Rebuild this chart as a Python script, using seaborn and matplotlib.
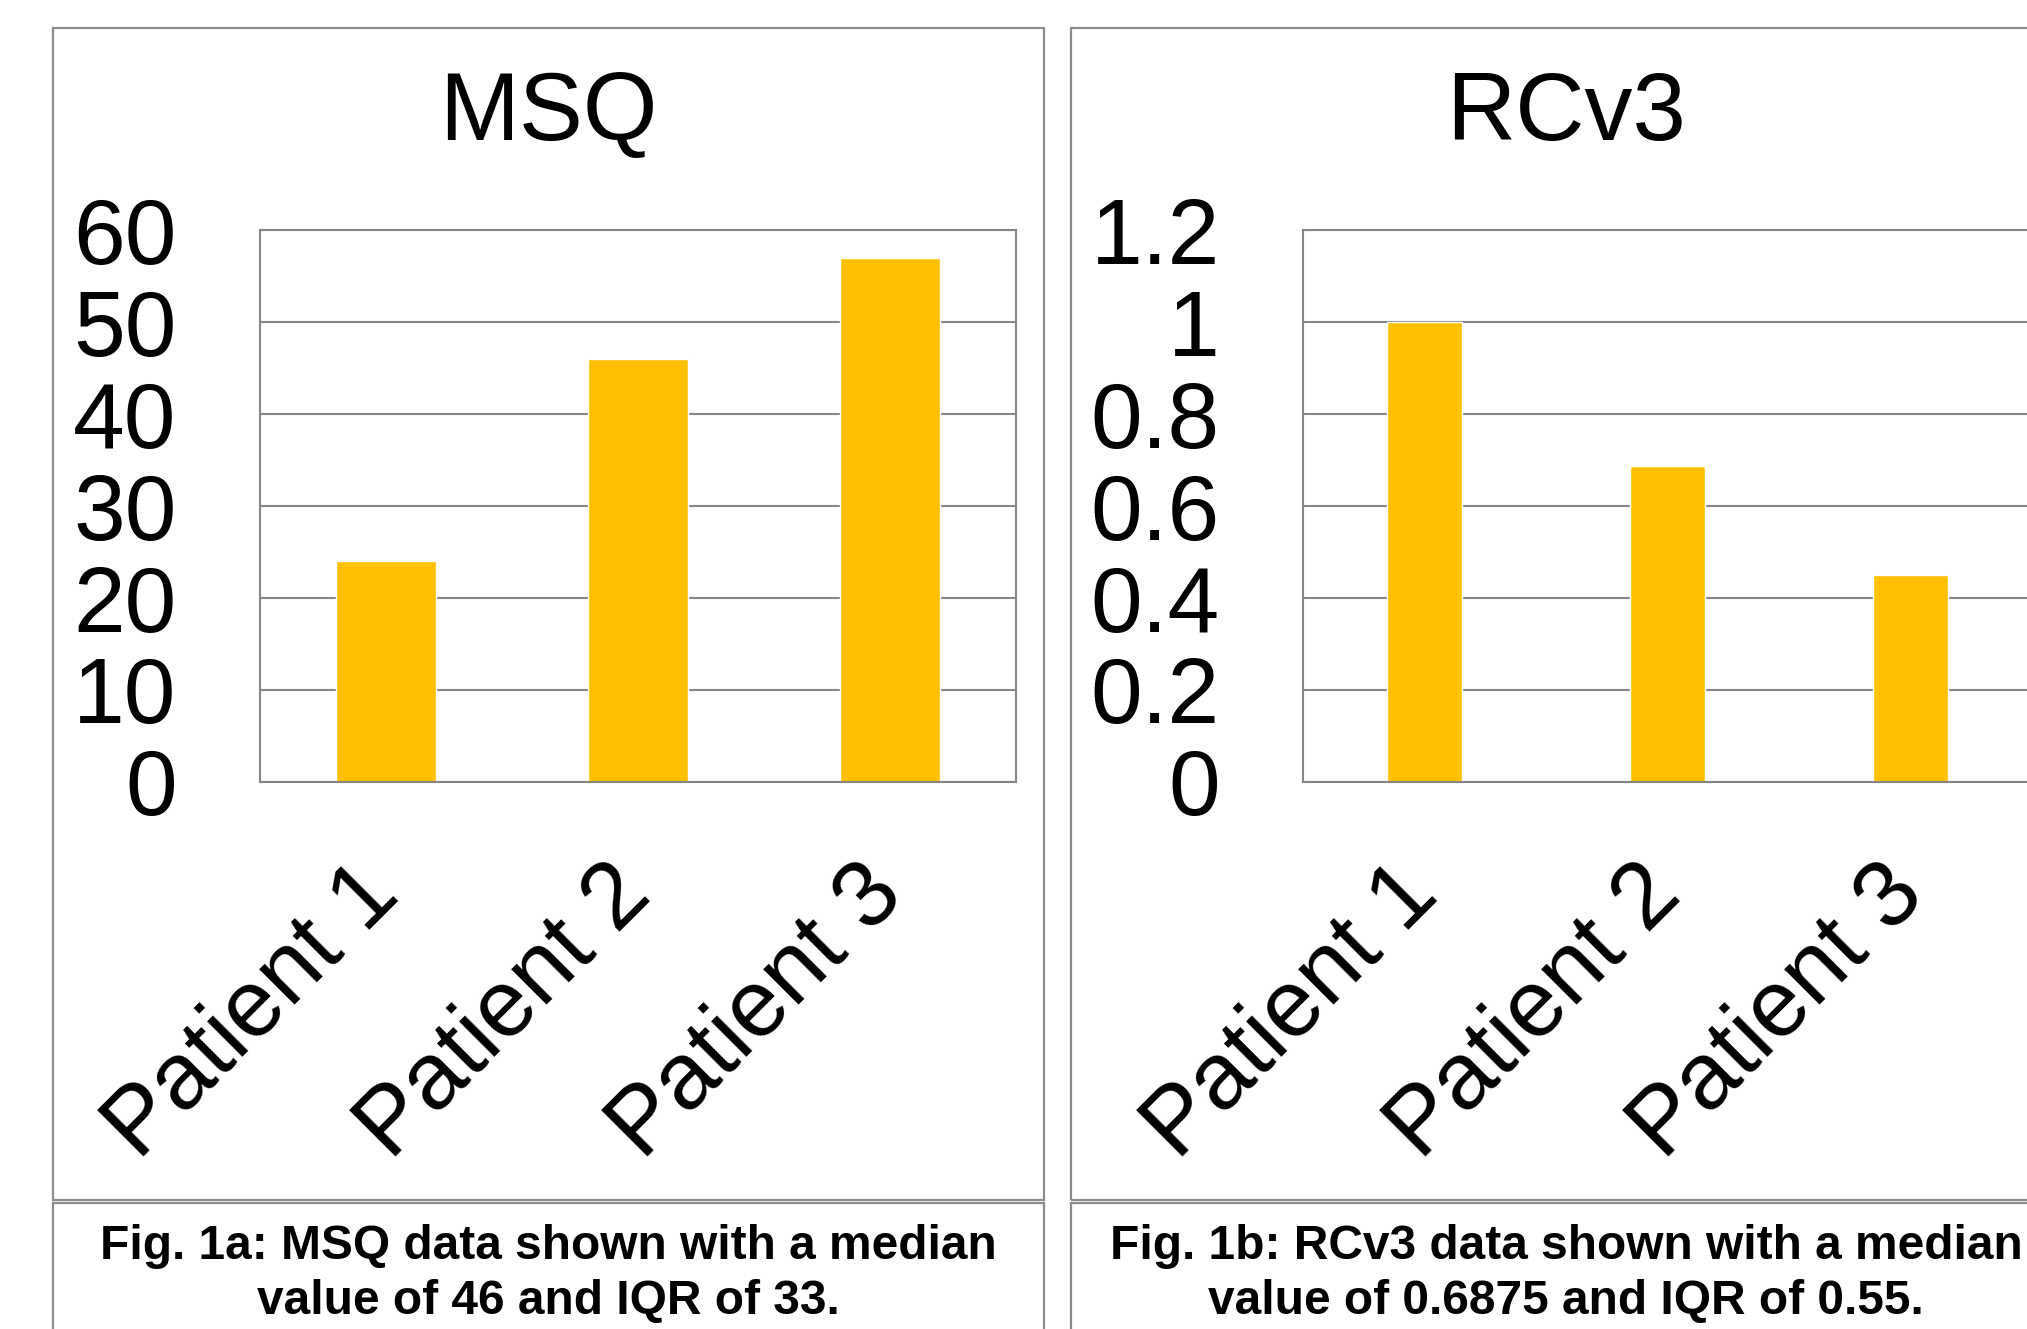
import matplotlib
matplotlib.use("Agg")
import matplotlib.pyplot as plt
import matplotlib.transforms as mtransforms
import seaborn as sns

# data
patients = ["Patient 1", "Patient 2", "Patient 3"]
msq_values = [24, 46, 57]
rcv3_values = [1.0, 0.6875, 0.45]

titles = ["MSQ", "RCv3"]
captions = [
    "Fig. 1a: MSQ data shown with a median\nvalue of 46 and IQR of 33.",
    "Fig. 1b: RCv3 data shown with a median\nvalue of 0.6875 and IQR of 0.55.",
]

sns.set_theme(style="white")
plt.rcParams['font.family'] = ['Liberation Sans', 'DejaVu Sans']
plt.rcParams['text.color'] = 'black'

W, H = 2027, 1329
fig = plt.figure(figsize=(W / 100, H / 100), dpi=100)

BAR = "#FFC000"
GRID = "#868686"
BOX = "#8c8c8c"


def px_rect(x0, y0, x1, y1):
    # pixel box (top-left origin) -> figure fraction
    return [x0 / W, 1 - y1 / H, (x1 - x0) / W, (y1 - y0) / H]


def panel_box(x0, x1):
    for y0, y1 in [(28, 1200), (1203, 1345)]:
        r = plt.Rectangle((x0 / W, 1 - y1 / H), (x1 - x0) / W, (y1 - y0) / H,
                          transform=fig.transFigure, fill=False,
                          edgecolor=BOX, lw=1.6)
        fig.add_artist(r)


def draw_panel(ax, values, ymax, step, bar_w):
    sns.barplot(x=patients, y=values, color=BAR, saturation=1,
                width=bar_w, ax=ax)
    ax.set_ylim(0, ymax)
    ticks = [i * step for i in range(int(round(ymax / step)) + 1)]
    ax.set_yticks(ticks)
    ax.set_yticklabels([f"{t:g}" for t in ticks])
    ax.yaxis.grid(True, color=GRID, lw=1.5)
    ax.set_axisbelow(True)
    for s in ax.spines.values():
        s.set_color(GRID)
        s.set_linewidth(1.5)
        s.set_visible(True)
    ax.set_xlabel("")
    ax.set_ylabel("")
    ax.tick_params(axis="y", length=0, pad=60, labelsize=67, colors="black")
    ax.tick_params(axis="x", length=0, pad=71, labelsize=68, colors="black")
    off = mtransforms.ScaledTranslation(-0.01, 0, fig.dpi_scale_trans)
    for lab in ax.get_xticklabels():
        lab.set_rotation(45)
        lab.set_ha("right")
        lab.set_va("center")
        lab.set_rotation_mode("anchor")
        lab.set_transform(lab.get_transform() + off)


# left panel
panel_box(53, 1044)
ax1 = fig.add_axes(px_rect(260, 230, 1016, 782))
draw_panel(ax1, msq_values, 60, 10, 0.4)
fig.text(548.5 / W, 1 - 140 / H, titles[0], ha="center", va="baseline",
         fontsize=69, color="black")
fig.text(548.5 / W, 1 - 1274 / H, captions[0], ha="center", va="center",
         fontsize=34.5, fontweight="bold", linespacing=1.28, color="black")

# right panel (cut off at the right edge in the original)
panel_box(1071, 2062)
ax2 = fig.add_axes(px_rect(1303, 230, 2032, 782))
draw_panel(ax2, rcv3_values, 1.2, 0.2, 0.31)
fig.text(1566 / W, 1 - 140 / H, titles[1], ha="center", va="baseline",
         fontsize=69, color="black")
fig.text(1566 / W, 1 - 1274 / H, captions[1], ha="center", va="center",
         fontsize=34.5, fontweight="bold", linespacing=1.28, color="black")

fig.savefig("out.png", dpi=100, facecolor="white")
